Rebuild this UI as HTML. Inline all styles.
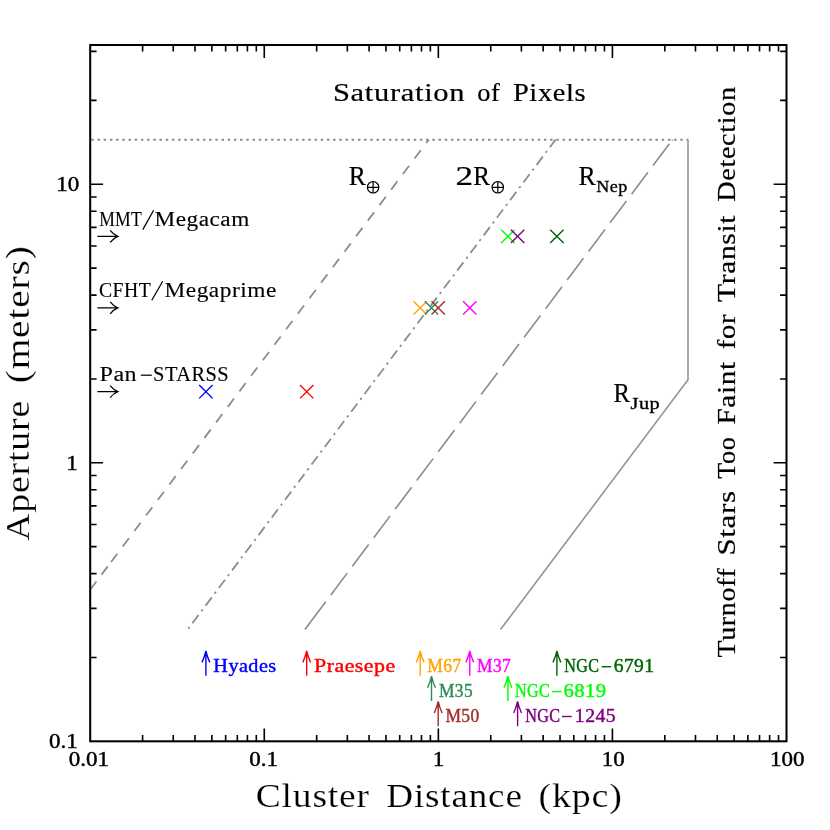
<!DOCTYPE html>
<html><head><meta charset="utf-8"><title>Aperture vs Cluster Distance</title>
<style>
html,body{margin:0;padding:0;background:#fff;}
svg{display:block;will-change:transform;font-family:"Liberation Serif",serif;}
text{white-space:pre;}
.tl{stroke:#000;stroke-width:0.45;stroke-linejoin:round;}
.md{stroke:#000;stroke-width:0.12;}
.sb{stroke:#000;stroke-width:0.3;}
.mm{stroke:#000;stroke-width:0.2;}
.th{stroke:#fff;stroke-width:0.2;}
</style></head><body>
<svg width="830" height="830" viewBox="0 0 830 830">
<rect width="830" height="830" fill="#fff"/>
<text transform="translate(68.74,766.10) scale(1.07,1)" font-size="21.5" letter-spacing="0.000" fill="#000" class="tl">0.01</text>
<text transform="translate(249.28,766.10) scale(1.07,1)" font-size="21.5" letter-spacing="0.000" fill="#000" class="tl">0.1</text>
<text transform="translate(432.65,766.10) scale(1.07,1)" font-size="21.5" letter-spacing="0.000" fill="#000" class="tl">1</text>
<text transform="translate(601.71,766.10) scale(1.07,1)" font-size="21.5" letter-spacing="0.000" fill="#000" class="tl">10</text>
<text transform="translate(770.08,766.10) scale(1.07,1)" font-size="21.5" letter-spacing="0.000" fill="#000" class="tl">100</text>
<text transform="translate(48.91,748.30) scale(1.07,1)" font-size="21.5" letter-spacing="0.000" fill="#000" class="tl">0.1</text>
<text transform="translate(66.23,469.78) scale(1.07,1)" font-size="21.5" letter-spacing="0.000" fill="#000" class="tl">1</text>
<text transform="translate(56.14,191.26) scale(1.07,1)" font-size="21.5" letter-spacing="0.000" fill="#000" class="tl">10</text>
<path d="M91.3 139.8 H688" stroke="#8c8c8c" stroke-width="1.9" stroke-dasharray="2.5 3.7" fill="none"/>
<path d="M428.80 139.60 L109.32 564.32" stroke="#8c8c8c" stroke-width="1.8" stroke-dasharray="10.4 9.02" stroke-dashoffset="6.1" fill="none"/>
<path d="M107.75 566.40 L101.56 574.63 M96.39 581.50 L90.02 589.97" stroke="#8c8c8c" stroke-width="1.8" fill="none"/>
<path d="M188.3 628.6 L555.6 139.6" stroke="#8c8c8c" stroke-width="1.8" stroke-dasharray="2.2 4.8 10.3 4.75" stroke-dashoffset="0.3" fill="none"/>
<path d="M304.90 629.50 L325.73 601.74 M330.82 594.95 L347.21 573.12 M352.30 566.33 L368.69 544.49 M373.78 537.70 L390.17 515.86 M395.26 509.07 L411.65 487.24 M416.74 480.45 L433.13 458.61 M438.22 451.82 L454.61 429.98 M459.71 423.19 L476.09 401.36 M481.19 394.56 L497.57 372.73 M502.67 365.94 L519.05 344.10 M524.15 337.31 L540.53 315.47 M545.63 308.68 L562.01 286.85 M567.11 280.06 L583.49 258.22 M588.59 251.43 L604.97 229.59 M610.07 222.80 L626.45 200.97 M631.55 194.17 L647.93 172.34 M653.03 165.55 L669.42 143.71 M671.90 140.40 L672.50 139.60" stroke="#8c8c8c" stroke-width="1.6" fill="none"/>
<path d="M500.5 629.6 L688 379.8 V139.6" stroke="#949494" stroke-width="1.6" fill="none" stroke-linejoin="miter"/>
<rect x="90.2" y="45.0" width="696.30" height="696.30" fill="none" stroke="#000" stroke-width="2.05"/>
<path d="M142.60 741.3 v-6.4 M142.60 45.0 v6.4 M173.25 741.3 v-6.4 M173.25 45.0 v6.4 M195.00 741.3 v-6.4 M195.00 45.0 v6.4 M211.87 741.3 v-6.4 M211.87 45.0 v6.4 M225.66 741.3 v-6.4 M225.66 45.0 v6.4 M237.31 741.3 v-6.4 M237.31 45.0 v6.4 M247.41 741.3 v-6.4 M247.41 45.0 v6.4 M256.31 741.3 v-6.4 M256.31 45.0 v6.4 M264.27 741.3 v-12.9 M264.27 45.0 v12.9 M316.68 741.3 v-6.4 M316.68 45.0 v6.4 M347.33 741.3 v-6.4 M347.33 45.0 v6.4 M369.08 741.3 v-6.4 M369.08 45.0 v6.4 M385.95 741.3 v-6.4 M385.95 45.0 v6.4 M399.73 741.3 v-6.4 M399.73 45.0 v6.4 M411.39 741.3 v-6.4 M411.39 45.0 v6.4 M421.48 741.3 v-6.4 M421.48 45.0 v6.4 M430.38 741.3 v-6.4 M430.38 45.0 v6.4 M438.35 741.3 v-12.9 M438.35 45.0 v12.9 M490.75 741.3 v-6.4 M490.75 45.0 v6.4 M521.40 741.3 v-6.4 M521.40 45.0 v6.4 M543.15 741.3 v-6.4 M543.15 45.0 v6.4 M560.02 741.3 v-6.4 M560.02 45.0 v6.4 M573.81 741.3 v-6.4 M573.81 45.0 v6.4 M585.46 741.3 v-6.4 M585.46 45.0 v6.4 M595.56 741.3 v-6.4 M595.56 45.0 v6.4 M604.46 741.3 v-6.4 M604.46 45.0 v6.4 M612.42 741.3 v-12.9 M612.42 45.0 v12.9 M664.83 741.3 v-6.4 M664.83 45.0 v6.4 M695.48 741.3 v-6.4 M695.48 45.0 v6.4 M717.23 741.3 v-6.4 M717.23 45.0 v6.4 M734.10 741.3 v-6.4 M734.10 45.0 v6.4 M747.88 741.3 v-6.4 M747.88 45.0 v6.4 M759.54 741.3 v-6.4 M759.54 45.0 v6.4 M769.63 741.3 v-6.4 M769.63 45.0 v6.4 M778.53 741.3 v-6.4 M778.53 45.0 v6.4 M90.2 657.46 h6.4 M786.5 657.46 h-6.4 M90.2 608.41 h6.4 M786.5 608.41 h-6.4 M90.2 573.61 h6.4 M786.5 573.61 h-6.4 M90.2 546.62 h6.4 M786.5 546.62 h-6.4 M90.2 524.57 h6.4 M786.5 524.57 h-6.4 M90.2 505.92 h6.4 M786.5 505.92 h-6.4 M90.2 489.77 h6.4 M786.5 489.77 h-6.4 M90.2 475.52 h6.4 M786.5 475.52 h-6.4 M90.2 462.78 h12.9 M786.5 462.78 h-12.9 M90.2 378.94 h6.4 M786.5 378.94 h-6.4 M90.2 329.89 h6.4 M786.5 329.89 h-6.4 M90.2 295.09 h6.4 M786.5 295.09 h-6.4 M90.2 268.10 h6.4 M786.5 268.10 h-6.4 M90.2 246.05 h6.4 M786.5 246.05 h-6.4 M90.2 227.40 h6.4 M786.5 227.40 h-6.4 M90.2 211.25 h6.4 M786.5 211.25 h-6.4 M90.2 197.00 h6.4 M786.5 197.00 h-6.4 M90.2 184.26 h12.9 M786.5 184.26 h-12.9 M90.2 100.42 h6.4 M786.5 100.42 h-6.4 M90.2 51.37 h6.4 M786.5 51.37 h-6.4" stroke="#000" stroke-width="1.6" fill="none"/>
<path d="M199.20 384.98 L212.60 398.38 M199.20 398.38 L212.60 384.98" stroke="#0000ff" stroke-width="1.4" fill="none"/>
<path d="M300.00 384.98 L313.40 398.38 M300.00 398.38 L313.40 384.98" stroke="#ff0000" stroke-width="1.4" fill="none"/>
<path d="M413.50 301.14 L426.90 314.54 M413.50 314.54 L426.90 301.14" stroke="#ffa500" stroke-width="1.4" fill="none"/>
<path d="M424.80 301.14 L438.20 314.54 M424.80 314.54 L438.20 301.14" stroke="#2e8b57" stroke-width="1.4" fill="none"/>
<path d="M431.50 301.14 L444.90 314.54 M431.50 314.54 L444.90 301.14" stroke="#a52a2a" stroke-width="1.4" fill="none"/>
<path d="M463.10 301.14 L476.50 314.54 M463.10 314.54 L476.50 301.14" stroke="#ff00ff" stroke-width="1.4" fill="none"/>
<path d="M501.20 229.67 L514.60 243.07 M501.20 243.07 L514.60 229.67" stroke="#00ff00" stroke-width="1.4" fill="none"/>
<path d="M510.90 229.67 L524.30 243.07 M510.90 243.07 L524.30 229.67" stroke="#800080" stroke-width="1.4" fill="none"/>
<path d="M550.20 229.67 L563.60 243.07 M550.20 243.07 L563.60 229.67" stroke="#006400" stroke-width="1.4" fill="none"/>
<path d="M205.90 675.70 V650.80 M202.00 662.40 Q204.70 656.30 205.90 650.80 Q207.10 656.30 209.80 662.40" stroke="#0000ff" stroke-width="1.4" fill="none"/>
<text transform="translate(213.34,672.20) scale(1.124,1)" font-size="18" letter-spacing="0.399" fill="#0000ff" stroke="#0000ff" stroke-width="0.4">Hyades</text>
<path d="M306.70 675.70 V650.80 M302.80 662.40 Q305.50 656.30 306.70 650.80 Q307.90 656.30 310.60 662.40" stroke="#ff0000" stroke-width="1.4" fill="none"/>
<text transform="translate(313.99,672.20) scale(1.218,1)" font-size="18" letter-spacing="0.397" fill="#ff0000" stroke="#ff0000" stroke-width="0.4">Praesepe</text>
<path d="M420.20 675.70 V650.80 M416.30 662.40 Q419.00 656.30 420.20 650.80 Q421.40 656.30 424.10 662.40" stroke="#ffa500" stroke-width="1.4" fill="none"/>
<text transform="translate(427.21,672.20) scale(0.977,1)" font-size="18" letter-spacing="0.388" fill="#ffa500" stroke="#ffa500" stroke-width="0.4">M67</text>
<path d="M431.50 701.00 V676.10 M427.60 687.70 Q430.30 681.60 431.50 676.10 Q432.70 681.60 435.40 687.70" stroke="#2e8b57" stroke-width="1.4" fill="none"/>
<text transform="translate(439.02,697.10) scale(0.965,1)" font-size="18" letter-spacing="0.388" fill="#2e8b57" stroke="#2e8b57" stroke-width="0.4">M35</text>
<path d="M438.20 726.30 V701.40 M434.30 713.00 Q437.00 706.90 438.20 701.40 Q439.40 706.90 442.10 713.00" stroke="#a52a2a" stroke-width="1.4" fill="none"/>
<text transform="translate(445.41,722.00) scale(0.971,1)" font-size="18" letter-spacing="0.388" fill="#a52a2a" stroke="#a52a2a" stroke-width="0.4">M50</text>
<path d="M469.80 675.70 V650.80 M465.90 662.40 Q468.60 656.30 469.80 650.80 Q471.00 656.30 473.70 662.40" stroke="#ff00ff" stroke-width="1.4" fill="none"/>
<text transform="translate(477.12,672.20) scale(0.968,1)" font-size="18" letter-spacing="0.390" fill="#ff00ff" stroke="#ff00ff" stroke-width="0.4">M37</text>
<path d="M507.90 701.00 V676.10 M504.00 687.70 Q506.70 681.60 507.90 676.10 Q509.10 681.60 511.80 687.70" stroke="#00ff00" stroke-width="1.4" fill="none"/>
<text transform="translate(515.05,697.10) scale(0.896,1)" font-size="18" letter-spacing="0.394" fill="#00ff00" stroke="#00ff00" stroke-width="0.4">NGC</text>
<path d="M551.9 691.60 H561.6" stroke="#00ff00" stroke-width="1.4" fill="none"/>
<text transform="translate(563.39,697.10) scale(1.151,1)" font-size="18" letter-spacing="0.398" fill="#00ff00" stroke="#00ff00" stroke-width="0.4">6819</text>
<path d="M517.60 726.30 V701.40 M513.70 713.00 Q516.40 706.90 517.60 701.40 Q518.80 706.90 521.50 713.00" stroke="#800080" stroke-width="1.4" fill="none"/>
<text transform="translate(525.15,722.00) scale(0.899,1)" font-size="18" letter-spacing="0.387" fill="#800080" stroke="#800080" stroke-width="0.4">NGC</text>
<path d="M562.0 716.50 H571.7" stroke="#800080" stroke-width="1.4" fill="none"/>
<text transform="translate(574.86,722.00) scale(1.095,1)" font-size="18" letter-spacing="0.392" fill="#800080" stroke="#800080" stroke-width="0.4">1245</text>
<path d="M556.90 675.70 V650.80 M553.00 662.40 Q555.70 656.30 556.90 650.80 Q558.10 656.30 560.80 662.40" stroke="#006400" stroke-width="1.4" fill="none"/>
<text transform="translate(564.35,672.20) scale(0.896,1)" font-size="18" letter-spacing="0.394" fill="#006400" stroke="#006400" stroke-width="0.4">NGC</text>
<path d="M601.6 666.70 H611.2" stroke="#006400" stroke-width="1.4" fill="none"/>
<text transform="translate(613.74,672.20) scale(1.085,1)" font-size="18" letter-spacing="0.395" fill="#006400" stroke="#006400" stroke-width="0.4">6791</text>
<text transform="translate(99.36,225.90) scale(0.88,1)" font-size="20" letter-spacing="0.136" fill="#000" class="md">MMT</text>
<path d="M142.8 229.6 L153.6 210.2" stroke="#000" stroke-width="1.25" fill="none"/>
<text transform="translate(154.62,225.90) scale(1.162,1)" font-size="20" letter-spacing="0.437" fill="#000" class="md">Megacam</text>
<text transform="translate(99.01,296.70) scale(0.986,1)" font-size="20" letter-spacing="0.439" fill="#000" class="md">CFHT</text>
<path d="M151.8 300.2 L162.7 281.3" stroke="#000" stroke-width="1.25" fill="none"/>
<text transform="translate(164.52,296.70) scale(1.168,1)" font-size="20" letter-spacing="0.440" fill="#000" class="md">Megaprime</text>
<text transform="translate(99.50,381.10) scale(1.203,1)" font-size="20" letter-spacing="0.446" fill="#000" class="md">Pan</text>
<path d="M140.9 375.2 H151.8" stroke="#000" stroke-width="1.25" fill="none"/>
<text transform="translate(153.07,381.10) scale(1.022,1)" font-size="20" letter-spacing="0.446" fill="#000" class="md">STARSS</text>
<path d="M97.4 236.37 H117.9 M110.2 230.37 Q113.3 234.57 117.9 236.37 Q113.3 238.17 110.2 242.37" stroke="#000" stroke-width="1.25" fill="none"/>
<path d="M97.4 307.84 H117.9 M110.2 301.84 Q113.3 306.04 117.9 307.84 Q113.3 309.64 110.2 313.84" stroke="#000" stroke-width="1.25" fill="none"/>
<path d="M97.4 391.68 H117.9 M110.2 385.68 Q113.3 389.88 117.9 391.68 Q113.3 393.48 110.2 397.68" stroke="#000" stroke-width="1.25" fill="none"/>
<text transform="translate(332.90,100.90) scale(1.247,1)" font-size="24.5" letter-spacing="0.543" fill="#000" class="mm">Saturation</text>
<text transform="translate(477.13,100.90) scale(1.078,1)" font-size="24.5" letter-spacing="0.530" fill="#000" class="mm">of</text>
<text transform="translate(512.89,100.90) scale(1.162,1)" font-size="24.5" letter-spacing="0.540" fill="#000" class="mm">Pixels</text>
<text transform="translate(735.00,657.46) rotate(-90) scale(1.142,1)" font-size="24.5" letter-spacing="0.543" fill="#000" class="mm">Turnoff</text>
<text transform="translate(735.00,555.52) rotate(-90) scale(1.261,1)" font-size="24.5" letter-spacing="0.543" fill="#000" class="mm">Stars</text>
<text transform="translate(735.00,478.63) rotate(-90) scale(1.067,1)" font-size="24.5" letter-spacing="0.541" fill="#000" class="mm">Too</text>
<text transform="translate(735.00,424.53) rotate(-90) scale(1.192,1)" font-size="24.5" letter-spacing="0.540" fill="#000" class="mm">Faint</text>
<text transform="translate(735.00,349.22) rotate(-90) scale(1.171,1)" font-size="24.5" letter-spacing="0.539" fill="#000" class="mm">for</text>
<text transform="translate(735.00,301.88) rotate(-90) scale(1.203,1)" font-size="24.5" letter-spacing="0.540" fill="#000" class="mm">Transit</text>
<text transform="translate(735.00,201.81) rotate(-90) scale(1.155,1)" font-size="24.5" letter-spacing="0.541" fill="#000" class="mm">Detection</text>
<text transform="translate(255.74,807.30) scale(1.12,1)" font-size="33.5" letter-spacing="0.740" fill="#000" class="th">Cluster</text>
<text transform="translate(386.30,807.30) scale(1.108,1)" font-size="33.5" letter-spacing="0.742" fill="#000" class="th">Distance</text>
<text transform="translate(538.41,807.30) scale(1.134,1)" font-size="33.5" letter-spacing="0.731" fill="#000" class="th">(kpc)</text>
<text transform="translate(28.90,540.74) rotate(-90) scale(1.126,1)" font-size="33.5" letter-spacing="0.745" fill="#000" class="th">Aperture</text>
<text transform="translate(28.90,383.34) rotate(-90) scale(1.175,1)" font-size="33.5" letter-spacing="0.737" fill="#000" class="th">(meters)</text>
<text transform="translate(348.77,184.90) scale(0.916,1)" font-size="28" letter-spacing="0.000" fill="#000" class="mm">R</text>
<g stroke="#000" stroke-width="1.2" fill="none"><circle cx="373.1" cy="187.3" r="5.7"/><path d="M367.40000000000003 187.3 H378.8 M373.1 181.60000000000002 V193.0"/></g>
<text transform="translate(455.59,184.90) scale(1.257,1)" font-size="28" letter-spacing="0.000" fill="#000" class="mm">2</text>
<text transform="translate(473.28,184.90) scale(0.894,1)" font-size="28" letter-spacing="0.000" fill="#000" class="mm">R</text>
<g stroke="#000" stroke-width="1.2" fill="none"><circle cx="497.8" cy="187.3" r="5.7"/><path d="M492.1 187.3 H503.5 M497.8 181.60000000000002 V193.0"/></g>
<text transform="translate(578.56,184.90) scale(0.922,1)" font-size="28" letter-spacing="0.000" fill="#000" class="mm">R</text>
<text transform="translate(596.25,192.20) scale(1.132,1)" font-size="16" letter-spacing="0.357" fill="#000" class="sb">Nep</text>
<text transform="translate(613.50,402.00) scale(0.88,1)" font-size="28" letter-spacing="0.000" fill="#000" class="mm">R</text>
<text transform="translate(630.62,409.30) scale(1.272,1)" font-size="16" letter-spacing="0.356" fill="#000" class="sb">Jup</text>
</svg>
</body></html>
